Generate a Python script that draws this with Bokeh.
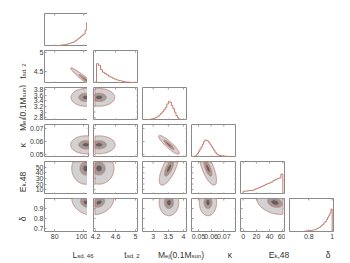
import numpy as np
from bokeh.plotting import figure
from bokeh.models import GridPlot, Range1d, LinearAxis, FixedTicker
from bokeh.core.properties import value
from bokeh.embed import file_html
from bokeh.resources import INLINE

# ---------------- data ----------------
x_lo = [73.0, 4.16, 2.65, 0.0445, -4.0, 0.635]
x_hi = [104.0, 5.06, 4.13, 0.0800, 64.0, 1.02]
y_lo = [0.0, 4.18, 2.70, 0.0478, 1.3, 0.67]
y_hi = [1.0, 5.05, 3.87, 0.0730, 60.4, 1.00]

x_tick_vals = [[80, 100], [4.2, 4.6, 5.0], [3.0, 3.5, 4.0], [0.05, 0.06, 0.07], [0, 20, 40, 60], [0.6, 0.8, 1.0]]
x_tick_text = [["80", "100"], ["4.2", "4.6", "5"], ["3", "3.5", "4"], ["0.05", "0.06", "0.07"], ["0", "20", "40", "60"], ["0.6", "0.8", "1"]]
y_tick_vals = [[], [4.5, 5.0], [2.8, 3.0, 3.2, 3.4, 3.6, 3.8], [0.05, 0.06, 0.07], [10, 20, 30, 40, 50], [0.7, 0.8, 0.9]]
y_tick_text = [[], ["4.5", "5"], ["2.8", "3", "3.2", "3.4", "3.6", "3.8"], ["0.05", "0.06", "0.07"], ["10", "20", "30", "40", "50"], ["0.7", "0.8", "0.9"]]

titles = [
    [("L", 0), ("sd, 46", 1)],
    [("t", 0), ("sd, 2", 1)],
    [("M", 0), ("ej", 1), ("(0.1M", 0), ("sun", 1), (")", 0)],
    [("κ", 0)],
    [("E", 0), ("k", 1), (",48", 0)],
    [("δ", 0)],
]

L_start, L_width = 78.0, 1.0
L_counts = [0.01, 0.01, 0.02, 0.02, 0.03, 0.03, 0.04, 0.05, 0.05, 0.06, 0.07, 0.08, 0.09,
            0.11, 0.12, 0.14, 0.17, 0.20, 0.24, 0.27, 0.31, 0.35, 0.38, 0.50, 0.72]
t_start, t_width = 4.22, 0.04
t_counts = [0.60, 0.55, 0.42, 0.34, 0.30, 0.26, 0.22, 0.19, 0.16, 0.13, 0.11, 0.09, 0.08,
            0.06, 0.05, 0.04, 0.04, 0.03, 0.03, 0.02, 0.02]
M_start, M_width = 2.70, 0.05
M_counts = [0.02, 0.02, 0.03, 0.03, 0.04, 0.05, 0.06, 0.08, 0.10, 0.13, 0.17, 0.22, 0.27,
            0.33, 0.40, 0.50, 0.58, 0.55, 0.45, 0.36, 0.25, 0.15, 0.08, 0.04, 0.02, 0.01]
k_start, k_width = 0.045, 0.001
k_counts = [0.02, 0.03, 0.05, 0.08, 0.12, 0.18, 0.25, 0.32, 0.40, 0.48, 0.53, 0.52, 0.50,
            0.46, 0.40, 0.34, 0.28, 0.22, 0.16, 0.11, 0.08, 0.07, 0.06, 0.05, 0.05, 0.04,
            0.04, 0.03, 0.04, 0.03, 0.02, 0.02]
E_start, E_width = 0.0, 3.0
E_counts = [0.10, 0.10, 0.11, 0.12, 0.12, 0.14, 0.17, 0.19, 0.22, 0.24, 0.27, 0.30, 0.33,
            0.35, 0.38, 0.42, 0.45, 0.48, 0.50, 0.62]
d_start, d_width = 0.76, 0.01
d_counts = [0.01, 0.01, 0.02, 0.02, 0.02, 0.03, 0.03, 0.04, 0.05, 0.06, 0.07, 0.09, 0.11,
            0.13, 0.16, 0.19, 0.22, 0.27, 0.30, 0.36, 0.42, 0.48, 0.56, 0.68]
hists = [(L_start, L_width, L_counts), (t_start, t_width, t_counts), (M_start, M_width, M_counts),
         (k_start, k_width, k_counts), (E_start, E_width, E_counts), (d_start, d_width, d_counts)]

post_mu = [101.5, 4.27, 3.52, 0.0575, 48.0, 0.96]
post_sig = [5.5, 0.17, 0.17, 0.0036, 16.0, 0.07]
post_lo = [-np.inf, 4.19, -np.inf, -np.inf, -np.inf, -np.inf]
post_hi = [103.8, np.inf, np.inf, np.inf, 60.0, 1.0]
post_rho = {(1, 0): -0.97, (2, 0): 0.0, (2, 1): 0.0, (3, 0): 0.0, (3, 1): 0.0, (3, 2): -0.9,
            (4, 0): 0.0, (4, 1): 0.0, (4, 2): 0.7, (4, 3): -0.7,
            (5, 0): -0.3, (5, 1): 0.3, (5, 2): 0.0, (5, 3): 0.0, (5, 4): -0.3}
mass_levels = [0.865, 0.393, 0.118]

# ---------------- style / layout ----------------
FONT = "Liberation Sans"
FILL = ["#d2d2d2", "#9e9e9e", "#606060"]
CLINE = "#c47a6e"
HIST = "#c27c70"
OUTLINE = "#8a8a8a"
TICKC = "#9a9a9a"
FRAME_W, FRAME_H = 45, 33
N = 6
TITLE_W = 26
B0 = 16
GAP = 4
TOP0 = 13
BOT = 12
XT_H = 18


def labeled_axis(p, side, ticks, labels):
    ax = LinearAxis(ticker=FixedTicker(ticks=list(ticks)))
    ax.axis_line_color = None
    ax.major_tick_in = 2
    ax.major_tick_out = 0
    ax.major_tick_line_color = TICKC
    ax.minor_tick_line_color = None
    ax.major_label_text_font = FONT
    ax.major_label_text_font_size = "7px"
    ax.major_label_text_color = "#3a3a3a"
    ax.major_label_standoff = 1 if side == "left" else 2
    ax.major_label_overrides = {float(t): s for t, s in zip(ticks, labels)}
    p.add_layout(ax, side)


def inner_ticks(p, i, j, sides):
    xt = x_tick_vals[j]
    yt = y_tick_vals[i] if i != j else []
    ylo, yhi = (0.0, 1.0) if i == j else (y_lo[i], y_hi[i])
    kw = dict(marker="dash", size=4, line_color=TICKC, line_width=1)
    if "below" in sides and xt:
        p.scatter(xt, [ylo] * len(xt), angle=np.pi / 2, **kw)
    if "above" in sides and xt:
        p.scatter(xt, [yhi] * len(xt), angle=np.pi / 2, **kw)
    if "left" in sides and yt:
        p.scatter([x_lo[j]] * len(yt), yt, **kw)
    if "right" in sides and yt:
        p.scatter([x_hi[j]] * len(yt), yt, **kw)


def hpd_levels(Z, fracs):
    flat = np.sort(Z.ravel())[::-1]
    cum = np.cumsum(flat)
    cum = cum / cum[-1]
    return [float(flat[min(np.searchsorted(cum, f), len(flat) - 1)]) for f in fracs]


def make_panel(i, j):
    diag = i == j
    p = figure(frame_width=FRAME_W, frame_height=FRAME_H,
               x_range=Range1d(x_lo[j], x_hi[j]),
               y_range=Range1d(0.0, 1.0) if diag else Range1d(y_lo[i], y_hi[i]),
               output_backend="svg", toolbar_location=None,
               x_axis_location=None, y_axis_location=None,
               min_border_left=B0 if j == 0 else GAP, min_border_right=0,
               min_border_top=TOP0 if i == 0 else GAP, min_border_bottom=BOT if i == N - 1 else 0,
               outline_line_color=OUTLINE, outline_line_width=1,
               background_fill_color="white", border_fill_color="white")
    p.grid.visible = False
    if diag:
        start, width, counts = hists[i]
        edges = start + width * np.arange(len(counts) + 1)
        xs = np.repeat(edges, 2)
        ys = np.concatenate([[0.0], np.repeat(counts, 2), [0.0]])
        p.line(xs, ys, line_color=HIST, line_width=1)
    else:
        xg = np.linspace(x_lo[j], x_hi[j], 200)
        yg = np.linspace(y_lo[i], y_hi[i], 160)
        X, Y = np.meshgrid(xg, yg)
        u = (X - post_mu[j]) / post_sig[j]
        v = (Y - post_mu[i]) / post_sig[i]
        r = post_rho[(i, j)]
        Z = np.exp(-0.5 * (u * u - 2 * r * u * v + v * v) / (1 - r * r))
        inside = (X >= post_lo[j]) & (X <= post_hi[j]) & (Y >= post_lo[i]) & (Y <= post_hi[i])
        Z = Z * inside
        lv = hpd_levels(Z, mass_levels)
        levels = lv + [float(Z.max()) * 1.001 + 1e-12]
        p.contour(x=xg, y=yg, z=Z, levels=levels, fill_color=FILL,
                  line_color=CLINE, line_width=0.8)
    sides = ["above", "right"]
    if i == N - 1:
        labeled_axis(p, "below", x_tick_vals[j], x_tick_text[j])
    else:
        sides.append("below")
    if j == 0 and not diag:
        labeled_axis(p, "left", y_tick_vals[i], y_tick_text[i])
    else:
        sides.append("left")
    inner_ticks(p, i, j, sides)
    return p


def text_width(s, size):
    w = {'L': 0.556, 't': 0.278, 'M': 0.833, 'E': 0.667, 's': 0.5, 'd': 0.556, 'e': 0.556,
         'j': 0.222, 'u': 0.556, 'n': 0.556, 'k': 0.5, ',': 0.278, ' ': 0.278, '(': 0.333,
         ')': 0.333, '.': 0.278, 'κ': 0.55, 'δ': 0.556}
    return sum(w.get(c, 0.556) for c in s) * size


def draw_title(p, pieces, c, base, rotated, main_size=8.5, sub_size=6.0, drop=1.8):
    widths = [text_width(s, sub_size if sub else main_size) for s, sub in pieces]
    pos = c - sum(widths) / 2.0
    groups = {0: ([], [], []), 1: ([], [], [])}
    for (s, sub), w in zip(pieces, widths):
        gx, gy, gt = groups[sub]
        if rotated:
            gx.append(base + (drop if sub else 0.0))
            gy.append(pos)
        else:
            gx.append(pos)
            gy.append(base - (drop if sub else 0.0))
        gt.append(s)
        pos += w
    for sub, (gx, gy, gt) in groups.items():
        if not gt:
            continue
        p.text(x=gx, y=gy, text=gt, angle=np.pi / 2 if rotated else 0.0,
               text_align="left", text_baseline="alphabetic",
               text_font=value(FONT), text_font_size=value(f"{sub_size if sub else main_size}px"),
               text_color="#333333")


def blank(w, h):
    p = figure(frame_width=w, frame_height=h, x_range=Range1d(0, w), y_range=Range1d(0, h),
               output_backend="svg", toolbar_location=None,
               x_axis_location=None, y_axis_location=None,
               min_border_left=0, min_border_right=0, min_border_top=0, min_border_bottom=0,
               outline_line_color=None, background_fill_color="white", border_fill_color="white")
    p.grid.visible = False
    return p


row_h = [FRAME_H + TOP0] + [FRAME_H + GAP] * 4 + [FRAME_H + GAP + BOT]
YT_H = sum(row_h[1:])
yT = blank(TITLE_W, YT_H)
for r in range(1, N):
    top_off = sum(row_h[1:r]) + GAP + FRAME_H / 2.0
    draw_title(yT, titles[r], YT_H - top_off, 22.0, True)

col_w = [B0 + FRAME_W] + [GAP + FRAME_W] * 5
XT_W = sum(col_w)
xT = blank(XT_W, XT_H)
for c in range(N):
    left = sum(col_w[:c]) + (B0 if c == 0 else GAP)
    draw_title(xT, titles[c], left + FRAME_W / 2.0, 7.0, False)

children = [(yT, 1, 0, 5, 1), (xT, 6, 1, 1, 6)]
for i in range(N):
    for j in range(i + 1):
        children.append((make_panel(i, j), i, j + 1))

grid = GridPlot(children=children, toolbar_location=None, spacing=0)

open("out.html", "w").write(file_html(grid, INLINE))
